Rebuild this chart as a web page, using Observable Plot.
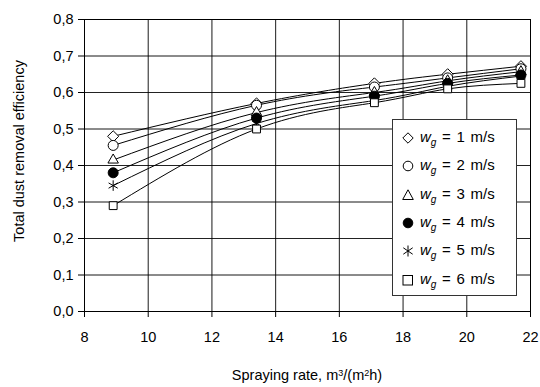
<!DOCTYPE html>
<html>
<head>
<meta charset="utf-8">
<script src="https://cdn.jsdelivr.net/npm/d3@7"></script>
<script src="https://cdn.jsdelivr.net/npm/@observablehq/plot@0.6"></script>
<style>
  html, body { margin: 0; padding: 0; background: #fff; }
  #wrap { position: relative; width: 540px; height: 387px; font-family: Arial, "Liberation Sans", sans-serif; }
  #legend { position: absolute; left: 392px; top: 119px; width: 125px; height: 177px; border: 1px solid #333; background: #fff; box-sizing: border-box; }
  .item { position: absolute; left: 9px; height: 20px; display: flex; align-items: center; font-size: 15px; word-spacing: 1.5px; color: #000; white-space: nowrap; }
  .item svg { margin-right: 6px; }
  .item i sub { font-size: 10px; }
  .ylab { position: absolute; left: 19px; top: 165px; transform: translate(-50%, -50%) rotate(-90deg); font-size: 14.5px; white-space: nowrap; margin-top: -14px; }
  .xlab { position: absolute; left: 307px; top: 375px; transform: translate(-50%, -50%); font-size: 14.5px; white-space: nowrap; }
  .xlab sup { font-size: 9px; vertical-align: 0.5em; }
</style>
</head>
<body>
<div id="wrap"></div>
<script>
// Data
const sprayRate = [8.9, 13.4, 17.1, 19.4, 21.7];
const gasSpeeds = [1, 2, 3, 4, 5, 6];
const eff1 = [0.48, 0.57, 0.625, 0.65, 0.672];
const eff2 = [0.455, 0.565, 0.615, 0.64, 0.665];
const eff3 = [0.415, 0.545, 0.60, 0.632, 0.657];
const eff4 = [0.38, 0.53, 0.59, 0.625, 0.648];
const eff5 = [0.345, 0.515, 0.578, 0.617, 0.645];
const eff6 = [0.29, 0.50, 0.572, 0.61, 0.625];
const yTicks = [0, 0.1, 0.2, 0.3, 0.4, 0.5, 0.6, 0.7, 0.8];
const xTicks = [8, 10, 12, 14, 16, 18, 20, 22];
const xTitle = "Spraying rate, m<sup>3</sup>/(m<sup>2</sup>h)";
const yTitle = "Total dust removal efficiency";

const symbols = ["diamond2", "circle", "triangle2", "circle", "asterisk", "square2"];
const fills = ["white", "white", "white", "black", "none", "white"];

const allEff = [eff1, eff2, eff3, eff4, eff5, eff6];
const rows = [];
allEff.forEach((arr, si) => arr.forEach((v, i) => rows.push({ s: si, x: sprayRate[i], y: v })));

const fmt = d => d3.format(".1f")(d).replace(".", ",");

const lineMarks = allEff.map((arr, si) =>
  Plot.line(rows.filter(r => r.s === si), { x: "x", y: "y", curve: "natural", stroke: "#000", strokeWidth: 1 })
);
const dotMarks = allEff.map((arr, si) =>
  Plot.dot(rows.filter(r => r.s === si), { x: "x", y: "y", symbol: () => symbols[si], r: 5, stroke: "#000", strokeWidth: 1, fill: fills[si] })
);

const chart = Plot.plot({
  width: 540,
  height: 387,
  marginLeft: 84,
  marginRight: 10,
  marginTop: 19,
  marginBottom: 76,
  style: { fontFamily: "Arial, 'Liberation Sans', sans-serif", fontSize: "14.5px", color: "#000", background: "white" },
  symbol: { type: "identity" },
  x: { domain: [8, 22], ticks: xTicks, grid: true, tickSize: 6, tickPadding: 14, label: null },
  y: { domain: [0, 0.8], ticks: yTicks, tickFormat: fmt, grid: true, tickSize: 6, tickPadding: 5, label: null },
  marks: [
    Plot.gridX(xTicks, { stroke: "#000", strokeOpacity: 0.85, strokeWidth: 1 }),
    Plot.gridY(yTicks, { stroke: "#000", strokeOpacity: 0.85, strokeWidth: 1 }),
    Plot.frame({ stroke: "#000", strokeWidth: 1 }),
    ...lineMarks,
    ...dotMarks
  ]
});

const wrap = document.getElementById("wrap");
wrap.appendChild(chart);

const yl = document.createElement("div");
yl.className = "ylab";
yl.textContent = yTitle;
wrap.appendChild(yl);
const xl = document.createElement("div");
xl.className = "xlab";
xl.innerHTML = xTitle;
wrap.appendChild(xl);

// Legend
const legend = document.createElement("div");
legend.id = "legend";
const symPaths = {
  diamond2: `<path d="M6 0.8 L11.2 6 L6 11.2 L0.8 6 Z" fill="white" stroke="black"/>`,
  circle: (f) => `<circle cx="6" cy="6" r="4.8" fill="${f}" stroke="black"/>`,
  triangle2: `<path d="M6 0.8 L11.3 10.5 L0.7 10.5 Z" fill="white" stroke="black"/>`,
  asterisk: `<path d="M6 0.5 V11.5 M1.3 2.8 L10.7 9.2 M1.3 9.2 L10.7 2.8" stroke="black" fill="none"/>`,
  square2: `<rect x="1" y="1.5" width="9.5" height="9.5" fill="white" stroke="black"/>`
};
gasSpeeds.forEach((w, i) => {
  const s = symbols[i];
  const p = s === "circle" ? symPaths.circle(fills[i]) : symPaths[s];
  const it = document.createElement("div");
  it.className = "item";
  it.style.top = (8 + i * 28.3) + "px";
  it.innerHTML = `<svg width="12" height="12" viewBox="0 0 12 12">${p}</svg><span><i>w<sub>g</sub></i> = ${w} m/s</span>`;
  legend.appendChild(it);
});
wrap.appendChild(legend);
</script>
</body>
</html>
